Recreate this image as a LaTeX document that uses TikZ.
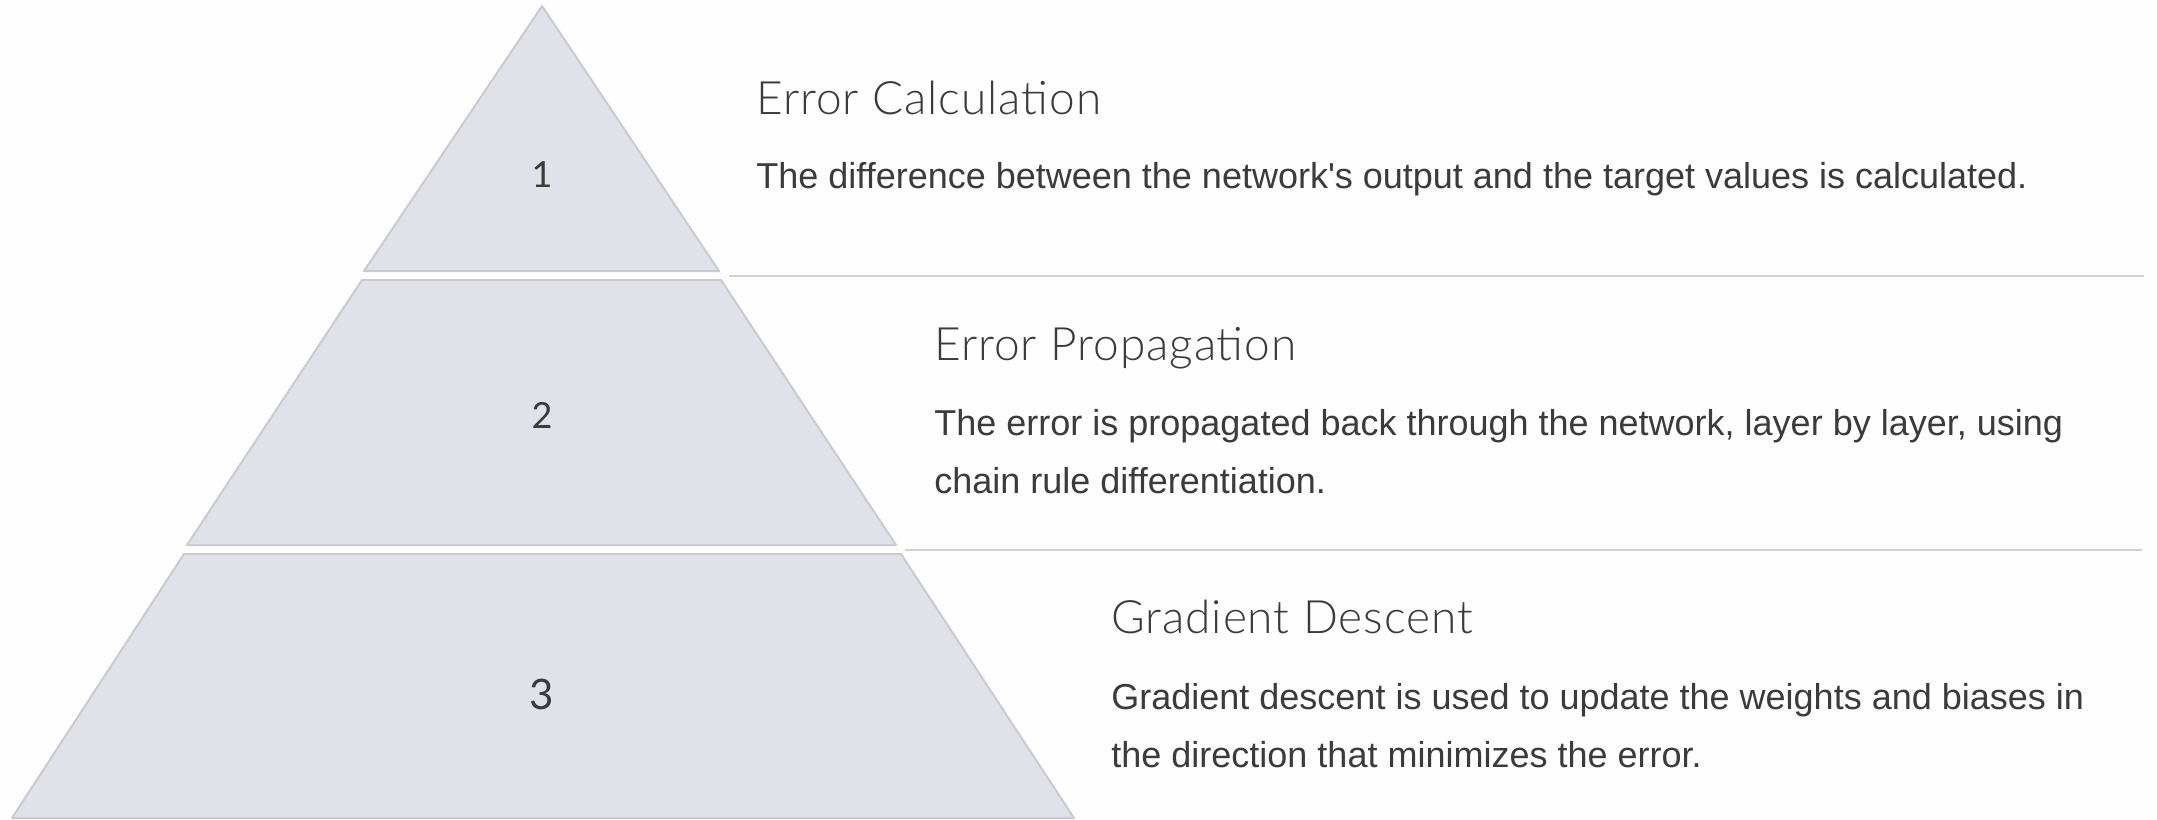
\documentclass[tikz,border=0pt]{standalone}
\usepackage{fontspec}
\setmainfont{Liberation Sans}
\newfontfamily\headfont{Lato Light}[LetterSpace=2]
\newfontfamily\numfont{Lato}
\usepackage{tikz}
\usetikzlibrary{positioning}
\definecolor{layerfill}{HTML}{E0E1E9}
\definecolor{layeredge}{HTML}{C9CAD2}
\definecolor{inkgray}{HTML}{3B3B3B}
\definecolor{rulegray}{HTML}{D0D1D8}
\definecolor{pagebg}{HTML}{FDFDFD}

\begin{document}
\begin{tikzpicture}[x=0.5pt, y=-0.5pt,
  layer/.style={fill=layerfill, draw=layeredge, line width=1pt, line join=round},
  num/.style={font=\numfont\fontsize{18}{18}\selectfont, text=inkgray},
  ttl/.style={anchor=base west, inner sep=0pt, text=inkgray,
              font=\headfont\fontsize{23}{28}\selectfont},
  desc/.style={anchor=base west, inner sep=0pt, align=left, text=inkgray,
               font=\fontsize{18}{29}\selectfont},
  sep/.style={draw=rulegray, line width=1pt}]

  \fill[pagebg] (0,0) rectangle (2157,819);
  \useasboundingbox (0,0) rectangle (2157,819);

  % pyramid layers
  \draw[layer] (542,6) -- (719,271) -- (364,271) -- cycle;
  \draw[layer] (362,280) -- (721,280) -- (896,545) -- (187,545) -- cycle;
  \draw[layer] (184,554) -- (901,554) -- (1074,818) -- (12,818) -- cycle;

  \node[num] (n1) at (542,175) {1};
  \node[num] (n2) at (542,415) {2};
  \node[num, font=\numfont\fontsize{21}{21}\selectfont] (n3) at (542,694) {3};

  % separators
  \draw[sep] (729,276) -- (2144,276);
  \draw[sep] (905,550) -- (2142,550);

  % texts (desc is anchored on its last line)
  \node[ttl]  (t1) at (756,114)  {Error Calculation};
  \node[desc] (d1) at (756,188)  {The difference between the network\textquotesingle s output and the target values is calculated.};

  \node[ttl]  (t2) at (934,360)  {Error Propagation};
  \node[desc] (d2) at (934,493)  {The error is propagated back through the network, layer by layer, using\\chain rule differentiation.};

  \node[ttl]  (t3) at (1111,633) {Gradient Descent};
  \node[desc] (d3) at (1111,767) {Gradient descent is used to update the weights and biases in\\the direction that minimizes the error.};
\end{tikzpicture}
\end{document}
